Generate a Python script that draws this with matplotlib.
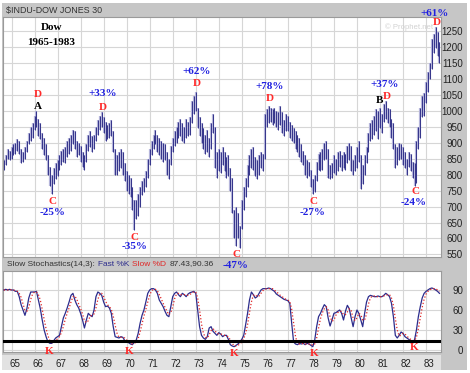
import numpy as np
import matplotlib
matplotlib.use('Agg')
import matplotlib.pyplot as plt
from matplotlib.patches import Rectangle

# monthly bars, first bar is Sep 1964
first_month = 1964 + 8 / 12

high = [
    845, 860, 880, 875,
    885, 895, 900, 910, 905, 880, 870, 885, 905, 930, 950, 960,
    985, 1000, 975, 960, 930, 915, 895, 860, 825, 800, 820, 835,
    845, 860, 875, 880, 885, 905, 915, 925, 940, 935, 905, 900,
    890, 870, 860, 895, 925, 935, 920, 925, 950, 970, 985, 995,
    980, 965, 955, 960, 970, 935, 880, 860, 870, 880, 870, 835,
    810, 800, 790, 760, 720, 720, 740, 760, 780, 790, 810, 850,
    880, 905, 925, 940, 925, 915, 905, 900, 895, 870, 850, 890,
    915, 935, 950, 965, 975, 960, 950, 975, 965, 980, 1030, 1045,
    1060, 1010, 980, 960, 945, 925, 940, 915, 960, 990, 950, 870,
    880, 870, 885, 870, 855, 860, 820, 790, 690, 700, 680, 640,
    720, 760, 790, 830, 860, 880, 885, 855, 845, 860, 870, 865,
    990, 1005, 1015, 1010, 1005, 1010, 1000, 995, 1015, 995, 970, 990,
    985, 965, 955, 945, 935, 925, 915, 895, 875, 860, 845, 840,
    815, 785, 800, 840, 865, 870, 880, 900, 905, 880, 830, 835,
    860, 850, 870, 875, 860, 870, 865, 890, 900, 890, 845, 860,
    885, 905, 860, 830, 860, 885, 930, 960, 970, 985, 1005, 1000,
    1010, 990, 1020, 1030, 1010, 1005, 975, 960, 895, 885, 900, 895,
    885, 870, 850, 870, 865, 840, 835, 905, 950, 1010, 1045, 1055,
    1090, 1120, 1150, 1225, 1240, 1262, 1245, 1215,
]
low = [
    815, 830, 850, 845,
    850, 860, 865, 875, 865, 835, 840, 850, 870, 895, 905, 915,
    940, 950, 920, 910, 880, 860, 845, 800, 765, 740, 770, 785,
    795, 815, 830, 840, 835, 855, 865, 875, 895, 880, 855, 860,
    840, 825, 815, 840, 875, 885, 870, 880, 905, 925, 940, 950,
    930, 905, 910, 915, 920, 870, 800, 800, 810, 820, 800, 780,
    750, 740, 730, 690, 625, 660, 670, 700, 735, 745, 760, 790,
    830, 860, 880, 895, 870, 860, 850, 840, 845, 800, 785, 830,
    870, 890, 900, 915, 920, 905, 900, 915, 920, 925, 960, 990,
    1000, 945, 920, 900, 880, 865, 870, 855, 880, 930, 820, 790,
    810, 805, 830, 810, 790, 795, 750, 680, 600, 575, 600, 570,
    630, 690, 730, 760, 800, 820, 815, 795, 785, 800, 820, 810,
    850, 950, 960, 965, 955, 960, 950, 940, 955, 930, 920, 935,
    935, 915, 905, 900, 880, 870, 855, 840, 830, 800, 790, 795,
    760, 740, 745, 780, 815, 810, 815, 845, 850, 790, 785, 790,
    805, 800, 810, 825, 810, 820, 815, 835, 845, 810, 800, 810,
    820, 840, 755, 770, 800, 835, 870, 905, 910, 925, 935, 910,
    945, 930, 965, 975, 960, 950, 915, 880, 820, 830, 845, 850,
    830, 820, 800, 825, 810, 790, 765, 775, 880, 915, 980, 985,
    1025, 1060, 1100, 1130, 1180, 1195, 1170, 1150,
]

fast_k = [
    90, 91, 90, 91,
    90, 90, 88, 88, 80, 68, 60, 52, 62, 78, 87, 87,
    87, 88, 75, 62, 45, 30, 20, 12, 10, 10, 14, 18,
    20, 22, 35, 48, 55, 63, 72, 82, 85, 75, 68, 63,
    55, 45, 33, 45, 55, 52, 50, 60, 80, 87, 85, 82,
    72, 65, 66, 63, 55, 35, 20, 19, 18, 20, 19, 14,
    12, 11, 9, 8, 12, 15, 25, 40, 52, 60, 72, 85,
    90, 92, 92, 90, 85, 75, 70, 65, 58, 52, 50, 65,
    80, 85, 87, 83, 80, 85, 83, 80, 84, 86, 87, 88,
    85, 60, 35, 22, 18, 16, 20, 33, 35, 28, 25, 22,
    26, 24, 20, 22, 22, 16, 8, 6, 5, 7, 9, 12,
    16, 22, 38, 55, 75, 87, 83, 78, 80, 85, 90, 92,
    92, 92, 93, 92, 90, 88, 84, 82, 80, 78, 76, 75,
    74, 70, 40, 12, 9, 8, 10, 9, 10, 8, 10, 9,
    7, 5, 15, 35, 50, 55, 62, 68, 65, 48, 36, 45,
    55, 56, 58, 60, 55, 45, 58, 67, 62, 48, 35, 50,
    60, 55, 45, 35, 55, 72, 80, 82, 81, 80, 80, 81,
    80, 80, 82, 85, 83, 80, 70, 50, 22, 18, 22, 27,
    25, 20, 18, 16, 14, 13, 15, 30, 50, 65, 78, 85,
    88, 90, 92, 93, 92, 90, 88, 85,
]
slow_d = [
    90, 90, 90, 91,
    90, 90, 89, 88, 85, 79, 69, 60, 58, 64, 76, 84,
    87, 87, 83, 75, 61, 46, 32, 21, 14, 11, 11, 14,
    17, 20, 26, 35, 46, 55, 63, 72, 80, 81, 76, 69,
    62, 54, 44, 41, 44, 51, 52, 54, 63, 76, 84, 85,
    80, 73, 68, 65, 61, 51, 37, 25, 19, 19, 19, 18,
    15, 12, 11, 9, 10, 12, 17, 27, 39, 51, 61, 72,
    82, 89, 91, 91, 89, 83, 77, 70, 64, 58, 53, 56,
    65, 77, 84, 85, 83, 83, 83, 83, 82, 83, 86, 87,
    87, 78, 60, 39, 25, 19, 18, 23, 29, 32, 29, 25,
    24, 24, 23, 22, 21, 20, 15, 10, 6, 6, 7, 9,
    12, 17, 25, 38, 56, 72, 82, 83, 80, 81, 85, 89,
    91, 92, 92, 92, 92, 90, 87, 85, 82, 80, 78, 76,
    75, 73, 61, 41, 20, 10, 9, 9, 10, 9, 9, 9,
    9, 7, 9, 18, 33, 47, 56, 62, 65, 60, 50, 43,
    45, 52, 56, 58, 58, 53, 53, 57, 62, 59, 48, 44,
    48, 55, 53, 45, 45, 54, 69, 78, 81, 81, 80, 80,
    80, 80, 81, 82, 83, 83, 78, 67, 47, 30, 21, 22,
    25, 24, 21, 18, 16, 14, 14, 19, 32, 48, 64, 76,
    84, 88, 90, 92, 92, 92, 90, 88,
]

years = list(range(1965, 1984))
year_labels = [str(y)[2:] for y in years]
price_ticks = list(range(550, 1300, 50))
stoch_ticks = [0, 30, 60, 90]

W, H = 470, 373
fig = plt.figure(figsize=(W / 100, H / 100), dpi=100)
fig.patch.set_facecolor('white')

def box(x0, y0, x1, y1):
    return [x0 / W, 1 - y1 / H, (x1 - x0) / W, (y1 - y0) / H]

def rect(x0, y0, x1, y1, color):
    b = box(x0, y0, x1, y1)
    fig.add_artist(Rectangle((b[0], b[1]), b[2], b[3], transform=fig.transFigure,
                             facecolor=color, edgecolor='none', zorder=-1))

sans = ['Liberation Sans', 'DejaVu Sans']
serif = ['Liberation Serif', 'DejaVu Serif']

# gray frame and label strip
rect(2, 3, 467, 370, '#c6c6c6')
rect(2, 355, 441, 370, '#e2e2e2')

x = first_month + np.arange(len(high)) / 12

# price panel
ax = fig.add_axes(box(3, 16.5, 441, 257))
ax.set_facecolor('white')
ax.vlines(x, low, high, colors='#b4b4da', lw=1.6, zorder=2)
ax.vlines(x, low, high, colors='#34348a', lw=0.7, zorder=3)
ax.set_xlim(1964.63, 1983.65)
ax.set_ylim(542, 1295)
ax.set_xticks(years)
ax.set_xticklabels([])
ax.set_yticks(price_ticks)
ax.yaxis.tick_right()
ax.tick_params(axis='both', length=0)
ax.tick_params(axis='y', pad=15.8, labelsize=7, labelcolor='#222222')
for lab in ax.get_yticklabels():
    lab.set_horizontalalignment('right')
    lab.set_family(sans)
ax.grid(True, color='#d6d6d6', lw=0.8)
ax.set_axisbelow(True)
for s in ax.spines.values():
    s.set_color('#9a9a9a')
    s.set_linewidth(0.8)

fig.text(6 / W, 1 - 10 / H, '$INDU-DOW JONES 30', fontsize=6.4, family=sans,
         color='#333333', va='center')
ax.text(1966.74, 1262, 'Dow', fontsize=8, family=serif, weight='bold', ha='center', va='center')
ax.text(1966.74, 1215, '1965-1983', fontsize=8, family=serif, weight='bold', ha='center', va='center')
ax.text(1981.2, 1262, '\u00a9 Prophet.net', fontsize=5.6, family=sans, color='#d2d2d2',
        ha='left', va='center', zorder=1, clip_on=True)

red = '#ff2a2a'
blue = '#2020e0'
tk = dict(fontsize=8, family=serif, weight='bold', ha='center', va='center', clip_on=False, zorder=5)
# tops
ax.text(1966.13, 1050, 'D', color=red, **tk)
ax.text(1966.13, 1012, 'A', color='black', **tk)
ax.text(1968.96, 1053, '+33%', color=blue, **tk)
ax.text(1968.96, 1009, 'D', color=red, **tk)
ax.text(1973.04, 1122, '+62%', color=blue, **tk)
ax.text(1973.04, 1085, 'D', color=red, **tk)
ax.text(1976.22, 1075, '+78%', color=blue, **tk)
ax.text(1976.22, 1037, 'D', color=red, **tk)
ax.text(1981.22, 1081, '+37%', color=blue, **tk)
ax.text(1981.0, 1031, 'B', color='black', **tk)
ax.text(1981.29, 1046, 'D', color=red, **tk)
ax.text(1983.35, 1305, '+61%', color=blue, **tk)
ax.text(1983.45, 1276, 'D', color=red, **tk)
# bottoms
ax.text(1966.78, 715, 'C', color=red, **tk)
ax.text(1966.78, 680, '-25%', color=blue, **tk)
ax.text(1970.35, 603, 'C', color=red, **tk)
ax.text(1970.35, 574, '-35%', color=blue, **tk)
ax.text(1974.78, 549, 'C', color=red, **tk)
ax.text(1974.74, 514, '-47%', color=blue, **tk)
ax.text(1978.13, 716, 'C', color=red, **tk)
ax.text(1978.09, 681, '-27%', color=blue, **tk)
ax.text(1982.55, 746, 'C', color=red, **tk)
ax.text(1982.48, 712, '-24%', color=blue, **tk)

# stochastics panel
ax2 = fig.add_axes(box(3, 271, 441, 352))
ax2.set_facecolor('white')
ax2.plot(x, fast_k, color='#2c2c8c', lw=0.9, zorder=3)
ax2.plot(x, slow_d, color='#e02828', lw=0.9, ls=':', zorder=4)
ax2.axhline(14, color='black', lw=2.2, zorder=5)
ax2.set_xlim(1964.63, 1983.65)
ax2.set_ylim(-3, 118.5)
ax2.set_yticks(stoch_ticks)
ax2.yaxis.tick_right()
ax2.set_xticks([y + 0.13 for y in years])
ax2.set_xticklabels(year_labels)
ax2.set_xticks(years, minor=True)
ax2.tick_params(axis='both', which='both', length=0)
ax2.tick_params(axis='y', pad=15.8, labelsize=7, labelcolor='#222222')
ax2.tick_params(axis='x', pad=5, labelsize=7, labelcolor='#222222')
for lab in ax2.get_yticklabels():
    lab.set_horizontalalignment('right')
    lab.set_family(sans)
for lab in ax2.get_xticklabels():
    lab.set_family(sans)
ax2.grid(True, which='minor', axis='x', color='#d6d6d6', lw=0.8)
ax2.grid(True, which='major', axis='y', color='#d6d6d6', lw=0.8)
ax2.set_axisbelow(True)
for s in ax2.spines.values():
    s.set_color('#9a9a9a')
    s.set_linewidth(0.8)

kt = dict(fontsize=8, family=serif, weight='bold', ha='center', va='center',
          color=red, clip_on=False, zorder=6)
ax2.text(1966.65, -1.5, 'K', **kt)
ax2.text(1970.09, -1.5, 'K', **kt)
ax2.text(1974.65, -5, 'K', **kt)
ax2.text(1978.13, -6, 'K', **kt)
ax2.text(1982.48, 3.5, 'K', **kt)

# stochastics header, pieces laid end to end
renderer = fig.canvas.get_renderer()
hy = 1 - 264 / H
parts = [('Slow Stochastics(14,3):', '#333333'), ('Fast %K', '#2c2c8c'),
         ('Slow %D', '#e02828'), ('87.43,90.36', '#333333')]
xpos = 7
for txt, col in parts:
    t = fig.text(xpos / W, hy, txt, fontsize=6.0, family=sans, color=col, va='center')
    xpos += t.get_window_extent(renderer).width + 3

fig.savefig('out.png', dpi=100)
